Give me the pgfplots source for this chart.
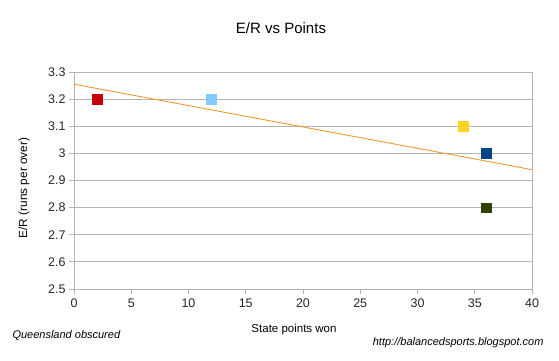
\documentclass[border=0pt]{standalone}
\usepackage{pgfplots}
\pgfplotsset{compat=1.18}
\usepackage{fontspec}
\setmainfont{Liberation Sans}
\definecolor{gridc}{HTML}{B3B3B3}
\definecolor{cred}{HTML}{C5000B}
\definecolor{clblue}{HTML}{83CAFF}
\definecolor{cyellow}{HTML}{FFD320}
\definecolor{cdblue}{HTML}{004586}
\definecolor{cdgreen}{HTML}{314004}
\definecolor{ctrend}{HTML}{EE9A2E}
\begin{document}
\begin{tikzpicture}[x=1pt,y=1pt]
\path (0,0) rectangle (559,360);
\begin{axis}[at={(74pt,71pt)}, anchor=south west, scale only axis,
  width=458pt, height=217pt,
  xmin=0, xmax=40, ymin=2.5, ymax=3.3,
  xtick={0,5,10,15,20,25,30,35,40},
  ytick={2.5,2.6,2.7,2.8,2.9,3.0,3.1,3.2,3.3},
  yticklabels={2.5,2.6,2.7,2.8,2.9,3,3.1,3.2,3.3},
  xtick pos=bottom, ytick pos=left, tick align=outside,
  major tick length=5pt,
  tick style={gridc, line width=0.8pt},
  axis line style={gridc, line width=0.8pt},
  ymajorgrids, major grid style={gridc, line width=0.8pt},
  /pgf/number format/assume math mode=true,
  tick label style={font=\fontsize{12.5}{14}\selectfont, text=black!85},
  xticklabel style={yshift=-1pt},
  clip=false,
]
\addplot[ctrend, line width=0.9pt] coordinates {(0,3.255) (40,2.94)};
\addplot[only marks, mark=square*, mark size=4.8pt, color=cred] coordinates {(2,3.2)};
\addplot[only marks, mark=square*, mark size=4.8pt, color=clblue] coordinates {(12,3.2)};
\addplot[only marks, mark=square*, mark size=4.8pt, color=cyellow] coordinates {(34,3.1)};
\addplot[only marks, mark=square*, mark size=4.8pt, color=cdblue] coordinates {(36,3.0)};
\addplot[only marks, mark=square*, mark size=4.8pt, color=cdgreen] coordinates {(36,2.8)};
\end{axis}
\node[font=\fontsize{15}{18}\selectfont] at (281,332) {E/R vs Points};
\node[font=\fontsize{11.8}{14}\selectfont, rotate=90] at (24,172) {E/R (runs per over)};
\node[font=\fontsize{11.5}{14}\selectfont] at (294,30) {State points won};
\node[font=\fontsize{11}{13}\itshape, anchor=west] at (9,24) {Queensland obscured};
\node[font=\fontsize{11}{13}\itshape, anchor=east] at (547,17) {http://balancedsports.blogspot.com};
\end{tikzpicture}
\end{document}
